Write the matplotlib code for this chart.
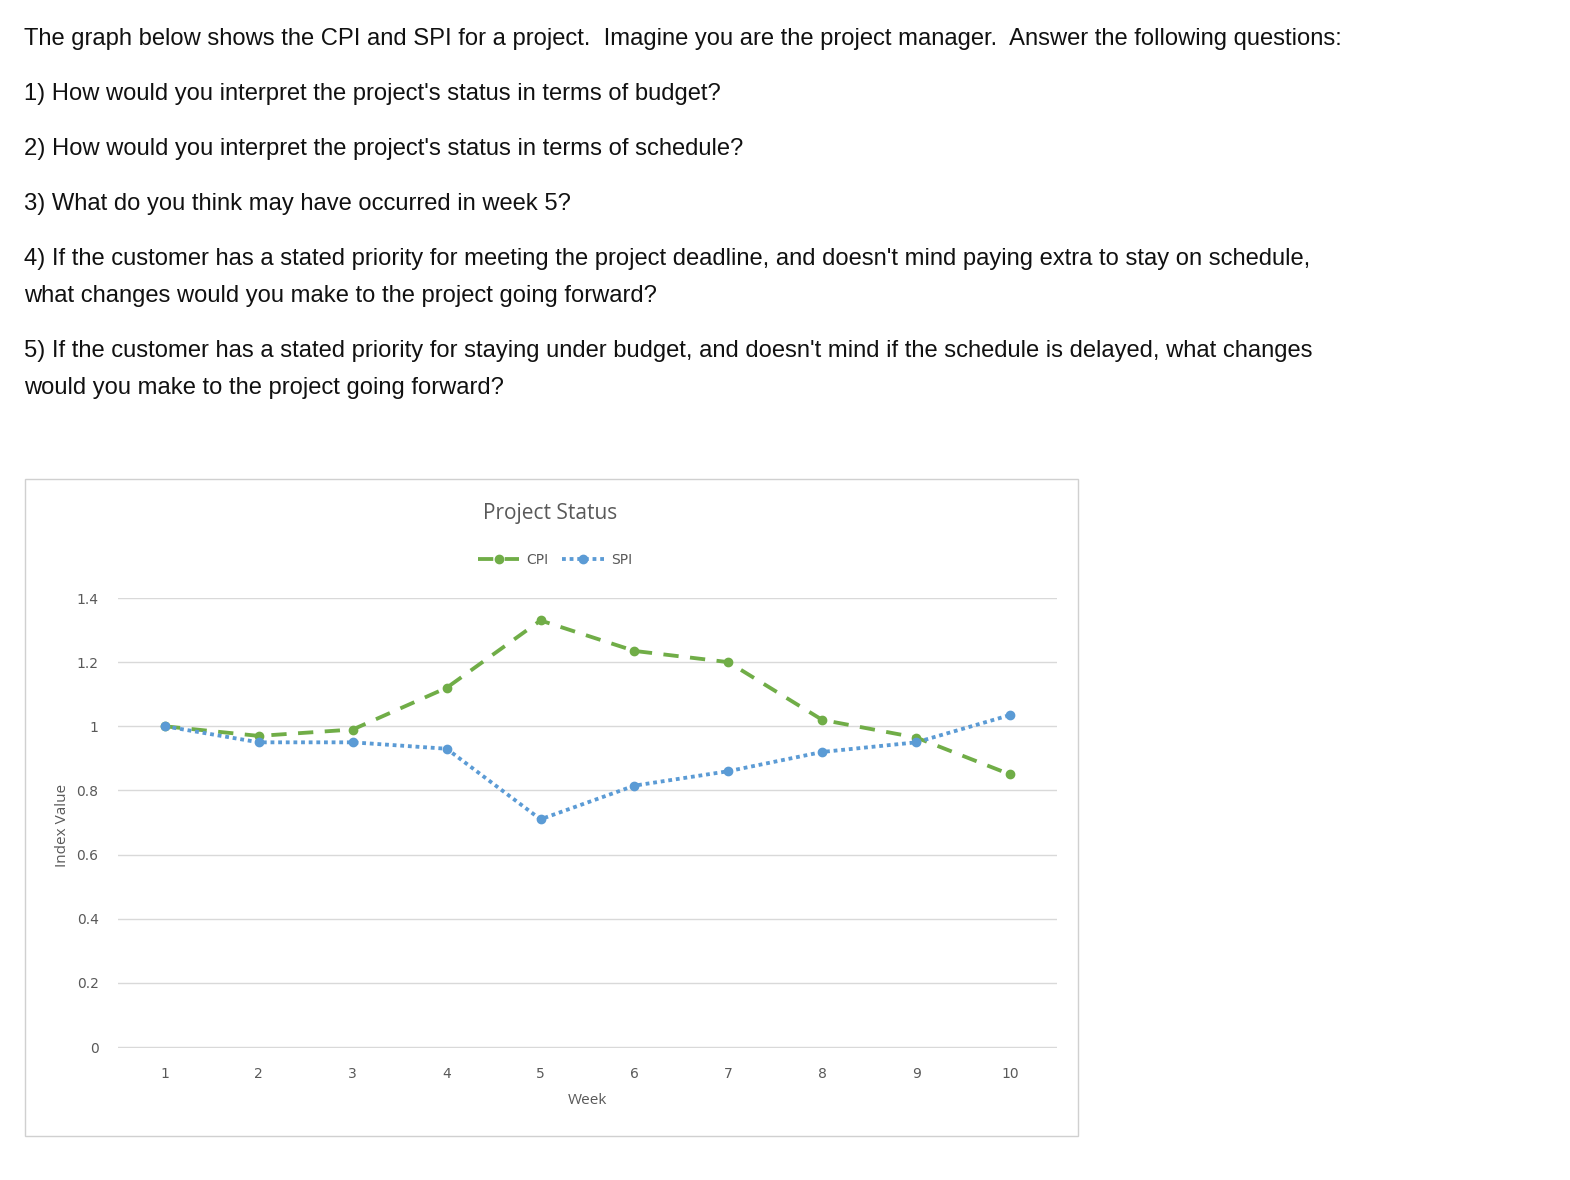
import matplotlib.pyplot as plt
from matplotlib.patches import Rectangle

weeks = [1, 2, 3, 4, 5, 6, 7, 8, 9, 10]
cpi = [1.00, 0.97, 0.99, 1.12, 1.33, 1.235, 1.20, 1.02, 0.965, 0.85]
spi = [1.00, 0.95, 0.95, 0.93, 0.71, 0.815, 0.86, 0.92, 0.95, 1.035]
y_ticks = [0, 0.2, 0.4, 0.6, 0.8, 1, 1.2, 1.4]
y_labels = ["0", "0.2", "0.4", "0.6", "0.8", "1", "1.2", "1.4"]

questions = [
    (39, "The graph below shows the CPI and SPI for a project.  Imagine you are the project manager.  Answer the following questions:"),
    (94, "1) How would you interpret the project's status in terms of budget?"),
    (149, "2) How would you interpret the project's status in terms of schedule?"),
    (204, "3) What do you think may have occurred in week 5?"),
    (259, "4) If the customer has a stated priority for meeting the project deadline, and doesn't mind paying extra to stay on schedule,"),
    (296, "what changes would you make to the project going forward?"),
    (351, "5) If the customer has a stated priority for staying under budget, and doesn't mind if the schedule is delayed, what changes"),
    (388, "would you make to the project going forward?"),
]

W, H = 1570, 1180
fig = plt.figure(figsize=(W / 100, H / 100), dpi=100)

for ypx, txt in questions:
    fig.text(24 / W, 1 - ypx / H, txt, fontsize=17.1, family="Liberation Sans",
             va="center", ha="left", color="#111111")

# chart border
fig.patches.append(Rectangle((25 / W, 1 - 1136 / H), 1053 / W, 657 / H,
                             transform=fig.transFigure, fill=False,
                             edgecolor="#D0D0D0", linewidth=1))

ax = fig.add_axes([118 / W, 1 - 1048 / H, 939 / W, 450 / H])
ax.plot(weeks, cpi, color="#70AD47", linestyle=(0, (4, 3)), linewidth=2.75,
        marker="o", markersize=6, label="CPI")
ax.plot(weeks, spi, color="#5B9BD5", linestyle=(0, (1, 1)), linewidth=2.75,
        marker="o", markersize=6, label="SPI")
ax.set_xlim(0.5, 10.5)
ax.set_ylim(-0.003, 1.4)
ax.set_xticks(weeks)
ax.set_yticks(y_ticks)
ax.set_yticklabels(y_labels)
ax.grid(axis="y", color="#D9D9D9", linewidth=1)
ax.set_axisbelow(True)
for s in ax.spines.values():
    s.set_visible(False)
ax.tick_params(length=0, colors="#595959", labelsize=10, pad=14)
ax.tick_params(axis="x", pad=14)

fig.text(550 / W, 1 - 513 / H, "Project Status", fontsize=15, color="#595959",
         ha="center", va="center", family="Open Sans")
fig.text(587 / W, 1 - 1101 / H, "Week", fontsize=11, color="#595959",
         ha="center", va="center", family="Open Sans")
fig.text(63 / W, 1 - 825 / H, "Index Value", fontsize=11, color="#595959",
         ha="center", va="center", rotation=90, family="Open Sans")

fig.legend(loc="center", bbox_to_anchor=(555 / W, 1 - 560 / H), ncol=2,
           frameon=False, fontsize=10, labelcolor="#595959",
           handlelength=3, columnspacing=1.0, handletextpad=0.5)

fig.savefig("out.png", dpi=100, facecolor="white")
